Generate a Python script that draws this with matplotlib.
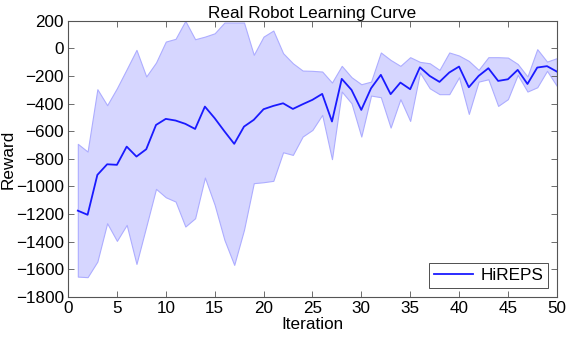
import matplotlib
matplotlib.use("Agg")
import matplotlib.pyplot as plt
import numpy as np

iterations = list(range(1, 51))
mean_reward = [-1175, -1205, -916, -839, -843, -711, -783, -730, -554, -510,
               -522, -546, -583, -421, -505, -600, -691, -566, -517, -440,
               -416, -397, -438, -404, -372, -329, -529, -220, -300, -445,
               -288, -191, -331, -247, -295, -136, -199, -242, -174, -131,
               -281, -199, -143, -235, -223, -155, -257, -138, -128, -167]
upper_reward = [-691, -747, -295, -411, -288, -150, -10, -203, -102, 50,
                70, 200, 67, 86, 110, 188, 188, 188, -46, 86,
                130, -34, -107, -160, -162, -167, -247, -126, -208, -259,
                -240, -29, -83, -126, -63, -97, -107, -155, -29, -51,
                -90, -155, -63, -63, -66, -112, -203, -5, -95, -70]
lower_reward = [-1653, -1657, -1544, -1266, -1394, -1278, -1561, -1290, -1017, -1078,
                -1109, -1290, -1230, -935, -1133, -1387, -1568, -1314, -976, -969,
                -959, -752, -771, -638, -590, -481, -802, -312, -397, -638,
                -341, -353, -573, -367, -525, -174, -288, -331, -331, -208,
                -474, -240, -223, -416, -367, -191, -312, -281, -162, -271]
xticks = list(range(0, 51, 5))
yticks = list(range(-1800, 201, 200))

plt.rcParams['font.family'] = ['Liberation Sans', 'DejaVu Sans']
fig = plt.figure(figsize=(5.67, 3.37), dpi=100)
ax = fig.add_axes([0.12, 0.119, 0.862, 0.819])

ax.fill_between(iterations, lower_reward, upper_reward, facecolor=(0.84, 0.84, 1.0),
                edgecolor=(0.68, 0.68, 1.0), linewidth=0.8)
ax.plot(iterations, mean_reward, color=(0.1, 0.1, 1.0), linewidth=1.3, label='HiREPS')

ax.set_xlim(0, 50)
ax.set_ylim(-1800, 200)
ax.set_xticks(xticks)
ax.set_yticks(yticks)
ax.tick_params(direction='in', top=True, right=True, labelsize=12.3, length=4,
               width=0.6, pad=3, color='#555555')
for s in ax.spines.values():
    s.set_linewidth(0.8)
    s.set_color('#555555')
ax.set_title('Real Robot Learning Curve', fontsize=12.3, pad=2)
ax.set_xlabel('Iteration', fontsize=12.3, labelpad=1)
ax.set_ylabel('Reward', fontsize=12.3, labelpad=0)
leg = ax.legend(loc='lower right', fontsize=12.3, fancybox=False, framealpha=1,
                edgecolor='#333333', handlelength=2.3, borderaxespad=0.5,
                borderpad=0.3, handletextpad=0.4)
leg.get_frame().set_linewidth(0.6)

fig.savefig('out.png', dpi=100)
